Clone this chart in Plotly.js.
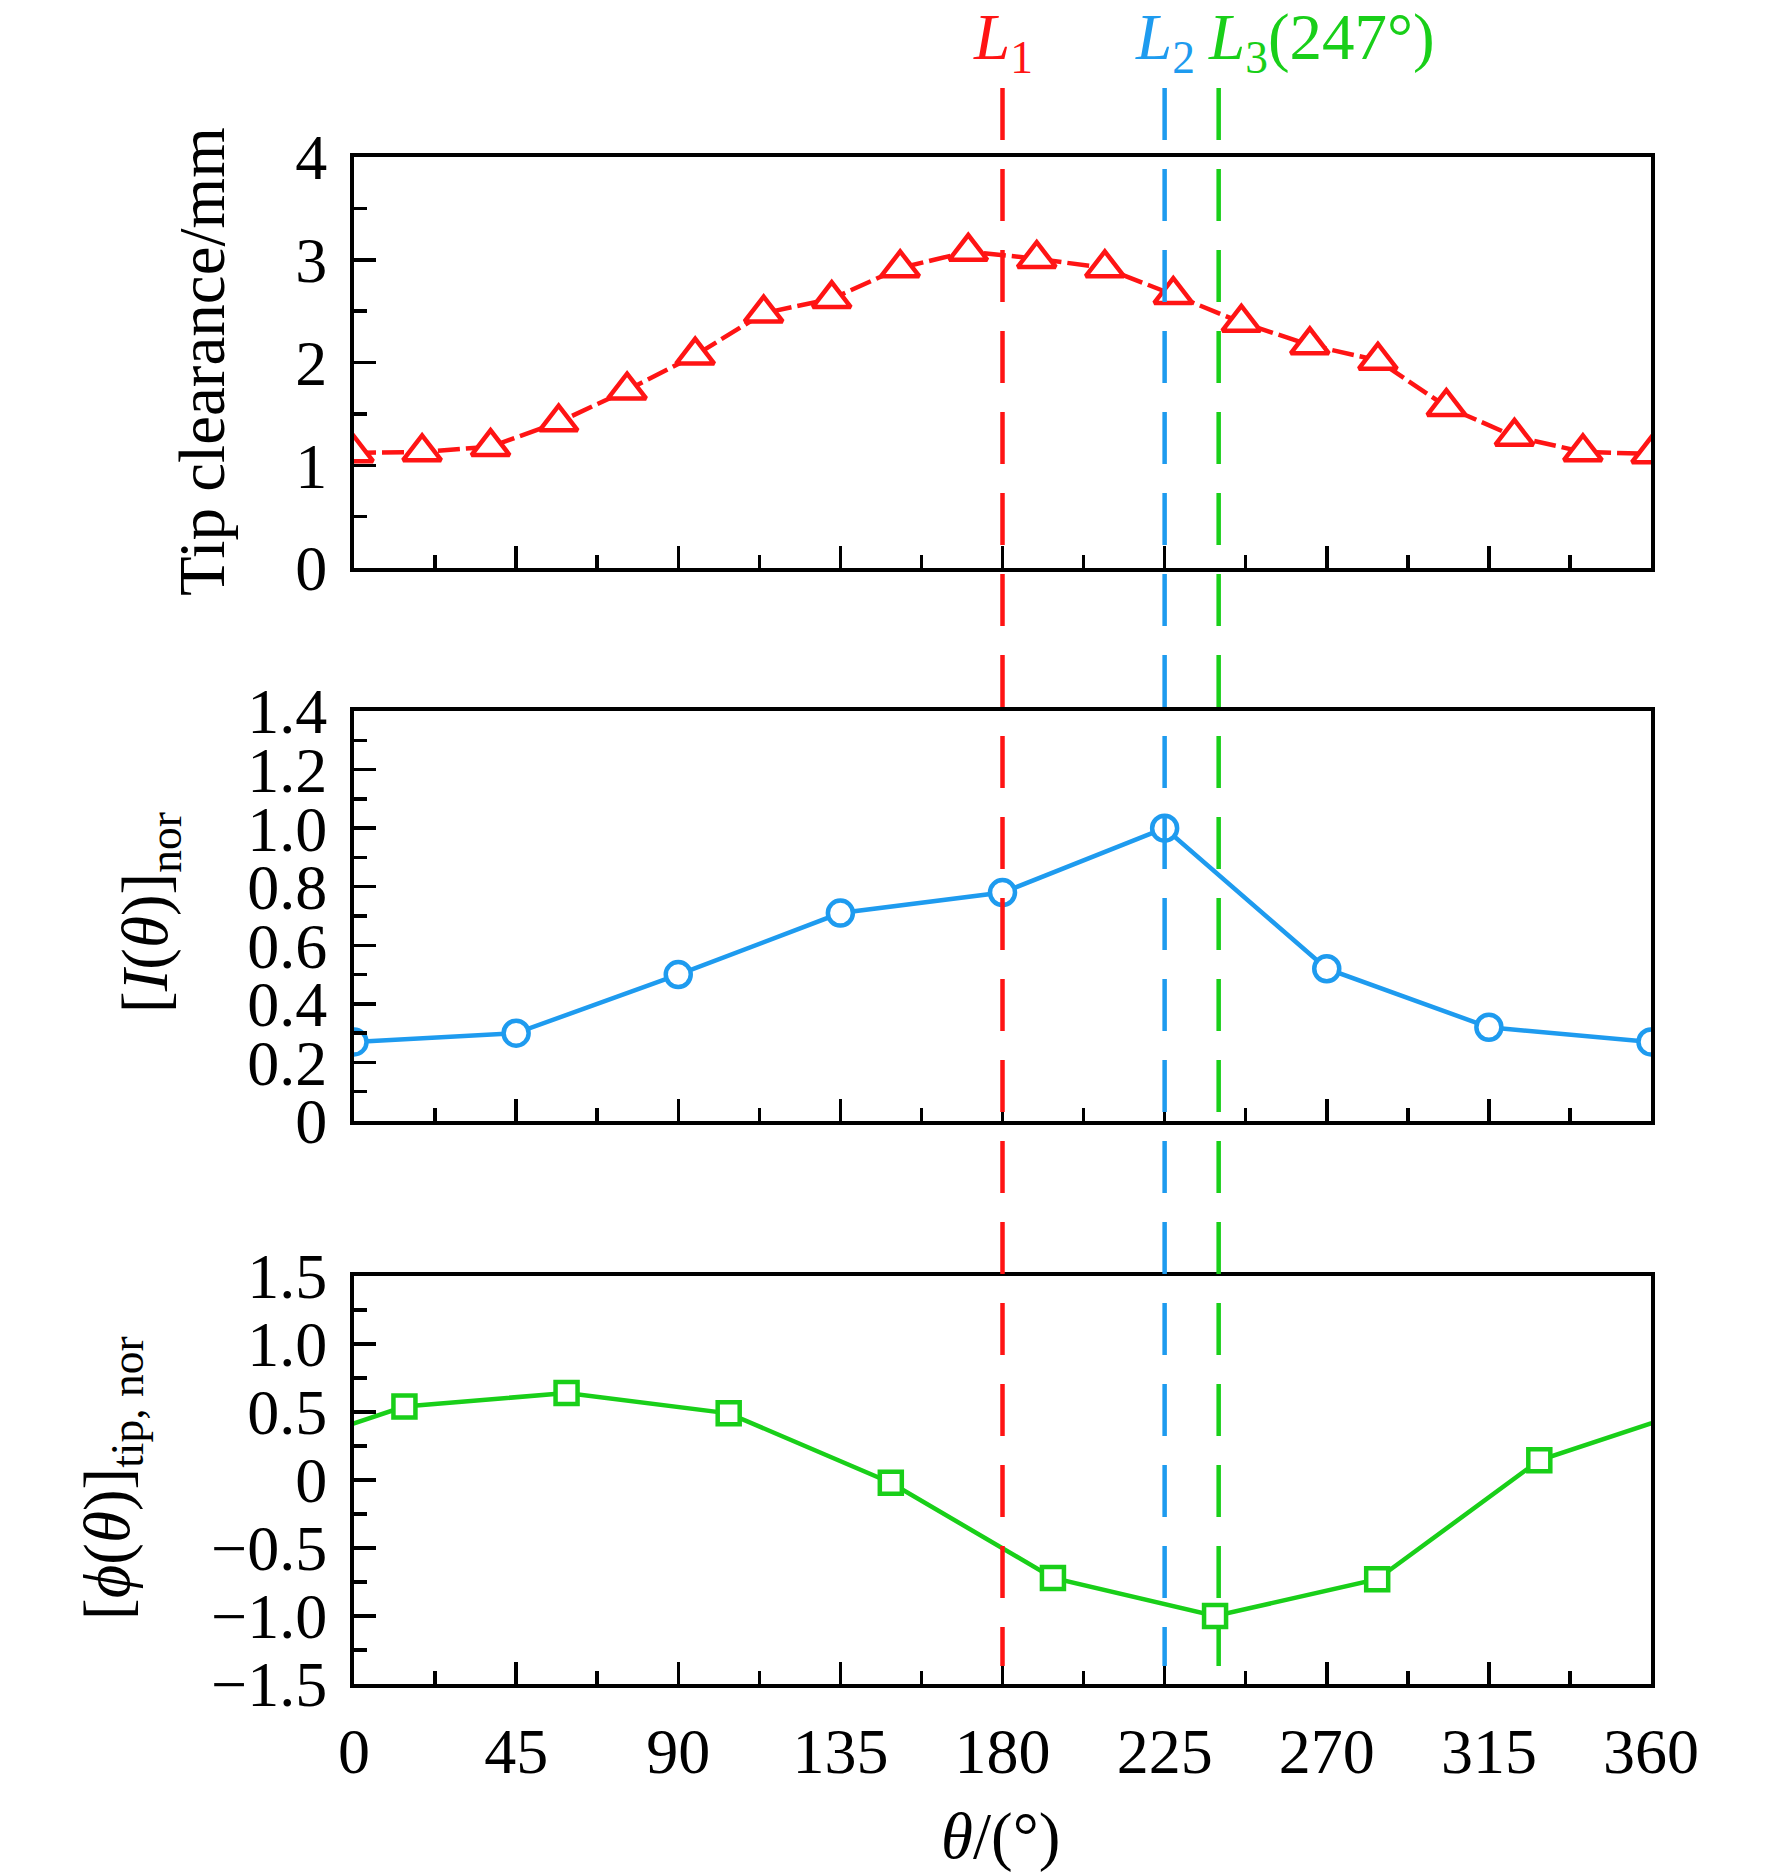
<!DOCTYPE html>
<html>
<head>
<meta charset="utf-8">
<script src="https://cdn.plot.ly/plotly-3.0.1.min.js"></script>
<style>
  html, body { margin: 0; padding: 0; background: #fff; }
  #chart { width: 1772px; height: 1872px; }
</style>
</head>
<body>
<div id="chart"></div>
<script>
// tip clearance, 20 points around the casing
const thetaTip = [0, 18.9, 37.9, 56.8, 75.8, 94.7, 113.7, 132.6, 151.6, 170.5,
  189.5, 208.4, 227.4, 246.3, 265.3, 284.2, 303.2, 322.1, 341.1, 360];
const tipClearance = [1.12, 1.13, 1.18, 1.42, 1.73, 2.07, 2.48, 2.62, 2.92, 3.08,
  3.01, 2.92, 2.66, 2.39, 2.17, 2.02, 1.57, 1.28, 1.13, 1.11];

// normalised intensity
const thetaI = [0, 45, 90, 135, 180, 225, 270, 315, 360];
const intensityNor = [0.27, 0.30, 0.50, 0.71, 0.78, 1.00, 0.52, 0.32, 0.27];

// normalised phase at tip (first and last points are the periodic wrap, outside 0-360)
const thetaPhi = [-31, 14, 59, 104, 149, 194, 239, 284, 329, 374];
const phiNor = [0.145, 0.54, 0.64, 0.49, -0.02, -0.72, -1.00, -0.73, 0.145, 0.54];

// marked positions
const lineTheta = [180, 225, 240];
const lineLabels = ['<i>L</i><sub>1</sub>', '<i>L</i><sub>2</sub>', '<i>L</i><sub>3</sub>(247°)'];

// tick labels
const midTickVals = [0, 0.2, 0.4, 0.6, 0.8, 1.0, 1.2, 1.4];
const midTickText = ['0', '0.2', '0.4', '0.6', '0.8', '1.0', '1.2', '1.4'];
const botTickVals = [-1.5, -1.0, -0.5, 0, 0.5, 1.0, 1.5];
const botTickText = ['\u22121.5', '\u22121.0', '\u22120.5', '0', '0.5', '1.0', '1.5'];

const RED = '#ff1414';
const BLUE = '#1e9bef';
const GREEN = '#19cf19';
const lineColors = [RED, BLUE, GREEN];
const FONT = '"Liberation Serif", "Times New Roman", serif';

// pixel helpers (plot area: top 157, bottom 1684, left 354, width 1297)
const PT = 157, PB = 1684, PL = 354, PW = 1297;
const py = (p) => (PB - p) / (PB - PT);
const px = (p) => (p - PL) / PW;

const traces = [
  {
    x: thetaTip, y: tipClearance, xaxis: 'x3', yaxis: 'y3',
    mode: 'lines+markers',
    line: { color: RED, width: 4.5, dash: '22px,6px' },
    marker: { symbol: 'triangle-up', size: 33, color: '#fff', line: { color: RED, width: 4.5 } },
  },
  {
    x: thetaI, y: intensityNor, xaxis: 'x2', yaxis: 'y2',
    mode: 'lines+markers',
    line: { color: BLUE, width: 4.5 },
    marker: { symbol: 'circle', size: 25, color: '#fff', line: { color: BLUE, width: 4.5 } },
  },
  {
    x: thetaPhi, y: phiNor, xaxis: 'x', yaxis: 'y',
    mode: 'lines+markers',
    line: { color: GREEN, width: 4.5 },
    marker: { symbol: 'square', size: 22, color: '#fff', line: { color: GREEN, width: 4.5 } },
  },
];

const axisBase = {
  showline: true, linecolor: '#000', linewidth: 4, mirror: true,
  showgrid: false, zeroline: false,
  ticks: 'inside', ticklen: 22, tickwidth: 3.5, tickcolor: '#000',
  tickfont: { family: FONT, size: 64, color: '#000' },
};
const minorBase = { ticks: 'inside', ticklen: 13, tickwidth: 3.5, tickcolor: '#000', showgrid: false };

const xBase = Object.assign({}, axisBase, {
  range: [0, 360], tickmode: 'linear', tick0: 0, dtick: 45,
  minor: Object.assign({ tickmode: 'linear', tick0: 0, dtick: 22.5 }, minorBase),
});

const shapes = lineTheta.map((t, i) => ({
  type: 'line', xref: 'x', yref: 'paper',
  x0: t, x1: t, y0: py(88), y1: py(1666),
  line: { color: lineColors[i], width: 4.5, dash: '52px,29px' },
  layer: 'above',
}));

const annotations = [
  {
    text: lineLabels[0], xref: 'x', yref: 'paper', x: lineTheta[0], y: py(42),
    xanchor: 'center', yanchor: 'middle', showarrow: false,
    font: { family: FONT, size: 65, color: RED },
  },
  {
    text: lineLabels[1], xref: 'x', yref: 'paper', x: lineTheta[1], y: py(42),
    xanchor: 'center', yanchor: 'middle', showarrow: false,
    font: { family: FONT, size: 65, color: BLUE },
  },
  {
    text: lineLabels[2], xref: 'paper', yref: 'paper', x: px(1206), y: py(42),
    xanchor: 'left', yanchor: 'middle', showarrow: false,
    font: { family: FONT, size: 65, color: GREEN },
  },
  // axis titles
  {
    text: 'Tip clearance/mm', xref: 'paper', yref: 'paper', x: px(202), y: py(362),
    textangle: -90, xanchor: 'center', yanchor: 'middle', showarrow: false,
    font: { family: FONT, size: 65, color: '#000' },
  },
  {
    text: '[<i>I</i>(<i>θ</i>)]<sub>nor</sub>', xref: 'paper', yref: 'paper', x: px(150), y: py(913),
    textangle: -90, xanchor: 'center', yanchor: 'middle', showarrow: false,
    font: { family: FONT, size: 65, color: '#000' },
  },
  {
    text: '[<i>ϕ</i>(<i>θ</i>)]<sub>tip, nor</sub>', xref: 'paper', yref: 'paper', x: px(112), y: py(1478),
    textangle: -90, xanchor: 'center', yanchor: 'middle', showarrow: false,
    font: { family: FONT, size: 65, color: '#000' },
  },
  {
    text: '<i>θ</i>/(°)', xref: 'paper', yref: 'paper', x: px(1000), y: py(1836),
    xanchor: 'center', yanchor: 'middle', showarrow: false,
    font: { family: FONT, size: 65, color: '#000' },
  },
];

const layout = {
  width: 1772, height: 1872,
  margin: { l: PL, r: 1772 - PL - PW, t: PT, b: 1872 - PB },
  paper_bgcolor: '#fff', plot_bgcolor: '#fff',
  showlegend: false,
  font: { family: FONT, color: '#000' },
  xaxis: Object.assign({}, xBase, { anchor: 'y', domain: [0, 1], ticklabelstandoff: 8 }),
  xaxis2: Object.assign({}, xBase, { anchor: 'y2', domain: [0, 1], matches: 'x', showticklabels: false }),
  xaxis3: Object.assign({}, xBase, { anchor: 'y3', domain: [0, 1], matches: 'x', showticklabels: false }),
  yaxis: Object.assign({}, axisBase, {
    anchor: 'x', domain: [0, py(1276)], range: [-1.5, 1.5],
    tickmode: 'array', tickvals: botTickVals, ticktext: botTickText,
    ticklabelstandoff: 10,
    minor: Object.assign({ tickmode: 'linear', tick0: 0, dtick: 0.25 }, minorBase),
  }),
  yaxis2: Object.assign({}, axisBase, {
    anchor: 'x2', domain: [py(1121), py(711)], range: [0, 1.4],
    tickmode: 'array', tickvals: midTickVals, ticktext: midTickText,
    ticklabelstandoff: 10,
    minor: Object.assign({ tickmode: 'linear', tick0: 0, dtick: 0.1 }, minorBase),
  }),
  yaxis3: Object.assign({}, axisBase, {
    anchor: 'x3', domain: [py(568), 1], range: [0, 4],
    tickmode: 'linear', tick0: 0, dtick: 1,
    ticklabelstandoff: 10,
    minor: Object.assign({ tickmode: 'linear', tick0: 0, dtick: 0.5 }, minorBase),
  }),
  shapes: shapes,
  annotations: annotations,
};

Plotly.newPlot('chart', traces, layout, { displayModeBar: false, staticPlot: true });
</script>
</body>
</html>
